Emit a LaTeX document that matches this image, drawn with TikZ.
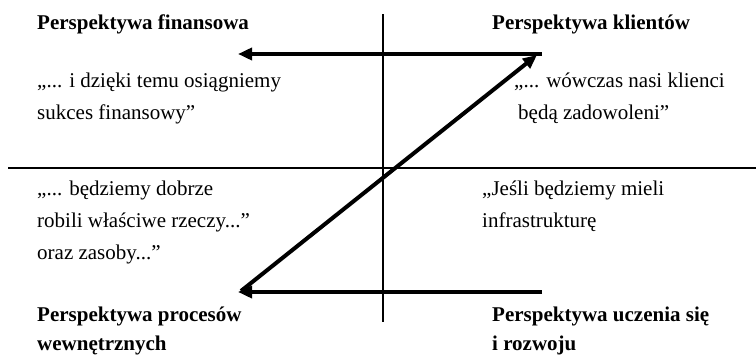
\documentclass[tikz,border=0pt]{standalone}
\usepackage{fontspec}
\setmainfont{Liberation Serif}
\usetikzlibrary{arrows.meta}
\begin{document}
\begin{tikzpicture}[x=1pt,y=-1pt,
  txt/.style={anchor=base west,inner sep=0pt,font=\fontsize{21}{24}\selectfont},
  head/.style={txt,font=\fontsize{21}{24}\selectfont\bfseries},
  axis/.style={line width=2pt},
  flow/.style={line width=4pt,-{Triangle[length=14pt,width=12pt]}}]
\useasboundingbox (0,0) rectangle (756,356);
% axes
\coordinate (vt) at (383,14);
\coordinate (vb) at (383,322);
\coordinate (hl) at (8,168);
\coordinate (hr) at (756,168);
\draw[axis] (vt) -- (vb);
\draw[axis] (hl) -- (hr);
% arrows
\coordinate (tr) at (542,54);
\coordinate (tl) at (238,54);
\coordinate (br) at (542,292);
\coordinate (bl) at (238,292);
\coordinate (dg) at (241,291);
\coordinate (dt) at (537,55);
\draw[flow] (tr) -- (tl);
\draw[flow] (br) -- (bl);
\draw[flow] (dg) -- (dt);
% texts
\node[head] (fin) at (37,30) {Perspektywa finansowa};
\node[txt] (fin1) at (37,87) {„... i dzięki temu osiągniemy};
\node[txt] (fin2) at (37,119) {sukces finansowy”};
\node[head] (kli) at (492,30) {Perspektywa klientów};
\node[txt] (kli1) at (514,87) {„... wówczas nasi klienci};
\node[txt] (kli2) at (518,119) {będą zadowoleni”};
\node[txt] (pro1) at (37,195) {„... będziemy dobrze};
\node[txt] (pro2) at (37,227) {robili właściwe rzeczy...”};
\node[txt] (pro3) at (37,259) {oraz zasoby...”};
\node[head] (pro) at (37,321) {Perspektywa procesów};
\node[head] (pro4) at (37,350) {wewnętrznych};
\node[txt] (ucz1) at (482,195) {„Jeśli będziemy mieli};
\node[txt] (ucz2) at (482,227) {infrastrukturę};
\node[head] (ucz) at (492,321) {Perspektywa uczenia się};
\node[head] (ucz3) at (492,350) {i rozwoju};
\end{tikzpicture}
\end{document}
